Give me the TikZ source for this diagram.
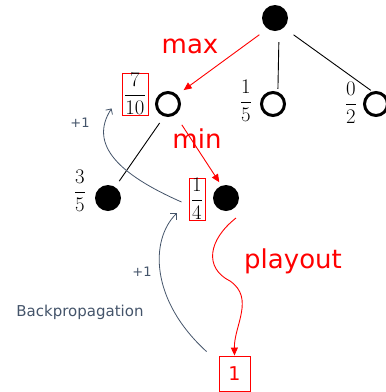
\documentclass[tikz,border=0pt]{standalone}
\usepackage{fontspec}
\newfontfamily\labelfont{DejaVu Sans}
\usetikzlibrary{arrows.meta}
\definecolor{slate}{HTML}{44546A}
\definecolor{pred}{HTML}{FF0000}
\begin{document}
\begin{tikzpicture}[x=1pt,y=-1pt,
  filled/.style={circle,fill=black,minimum size=26pt,inner sep=0pt},
  hollow/.style={circle,draw=black,line width=3pt,minimum size=23pt,inner sep=0pt},
  fracnode/.style={inner sep=0pt,font=\fontsize{19.5}{21}\selectfont},
  fracbox/.style={fracnode,draw=pred,line width=0.9pt,minimum height=42pt},
  edge/.style={draw=black,line width=0.9pt},
  redarrow/.style={draw=pred,line width=0.9pt,-{Triangle[length=8pt,width=7pt]}},
  backarrow/.style={draw=slate,line width=0.8pt,-{Straight Barb[length=4pt,width=8pt]}},
  bigred/.style={text=pred,font=\labelfont\fontsize{26}{30}\selectfont,anchor=base,inner sep=0pt},
  slatelabel/.style={text=slate,inner sep=0pt},
]
\useasboundingbox (0,0) rectangle (386,392);

% tree nodes
\node[filled] (root) at (275,18) {};
\node[hollow] (L) at (168,104) {};
\node[hollow] (M) at (273,104) {};
\node[hollow] (R) at (376,104) {};
\node[filled] (F0) at (108,198) {};
\node[filled] (F1) at (226,198) {};

% fractions
\node[fracbox,minimum width=26pt] (f710) at (135,94) {$\displaystyle\frac{7}{10}$};
\node[fracnode] (f15) at (246,101) {$\displaystyle\frac{1}{5}$};
\node[fracnode] (f02) at (351,103) {$\displaystyle\frac{0}{2}$};
\node[fracnode] (f35) at (80,191) {$\displaystyle\frac{3}{5}$};
\node[fracbox,minimum width=16pt] (f14) at (197,199) {$\displaystyle\frac{1}{4}$};

% result box
\node[draw=pred,line width=0.9pt,minimum width=31pt,minimum height=35pt,inner sep=0pt,
      text=pred,font=\labelfont\fontsize{19}{21}\selectfont] (res) at (234.5,373.5) {1};

% labels
\node[bigred] (tmax) at (190,53) {max};
\node[bigred] (tmin) at (197,148) {min};
\node[bigred] (tplay) at (293,268) {playout};
\node[slatelabel,font=\labelfont\fontsize{15}{17}\selectfont,anchor=base] (tback) at (80,316) {Backpropagation};
\node[slatelabel,font=\labelfont\fontsize{13}{15}\selectfont] (p1a) at (80,123) {+1};
\node[slatelabel,font=\labelfont\fontsize{13}{15}\selectfont] (p1b) at (142,272) {+1};

% edges
\draw[redarrow,shorten <=10pt,shorten >=8pt] (root.235) -- (L.45);
\draw[edge,shorten <=11.5pt,shorten >=3pt] (root.-72) -- (M.68);
\draw[edge,shorten <=12pt,shorten >=2pt] (root.-48) -- (R.106);
\draw[redarrow,shorten <=12pt,shorten >=4pt] (L.-56) -- (F1.110);
\draw[edge,shorten <=8pt,shorten >=7pt] (L.253) -- (F0.57);

% playout
\coordinate (pw) at (230,281);
\draw[redarrow] ([shift={(10pt,-20pt)}]F1.center) .. controls (208,240) and (204,268) .. (pw)
      .. controls (255,298) and (234,326) .. (res.north);

% backpropagation
\draw[backarrow] ([xshift=-12pt,yshift=4pt]res.north west) .. controls (150,300) and (150,240) .. ([xshift=-12pt,yshift=7pt]f14.south west);
\draw[backarrow] ([xshift=-7pt,yshift=-3pt]f14.west) .. controls (120,175) and (88,145) .. ([xshift=-10pt,yshift=7pt]f710.south west);
\end{tikzpicture}
\end{document}
